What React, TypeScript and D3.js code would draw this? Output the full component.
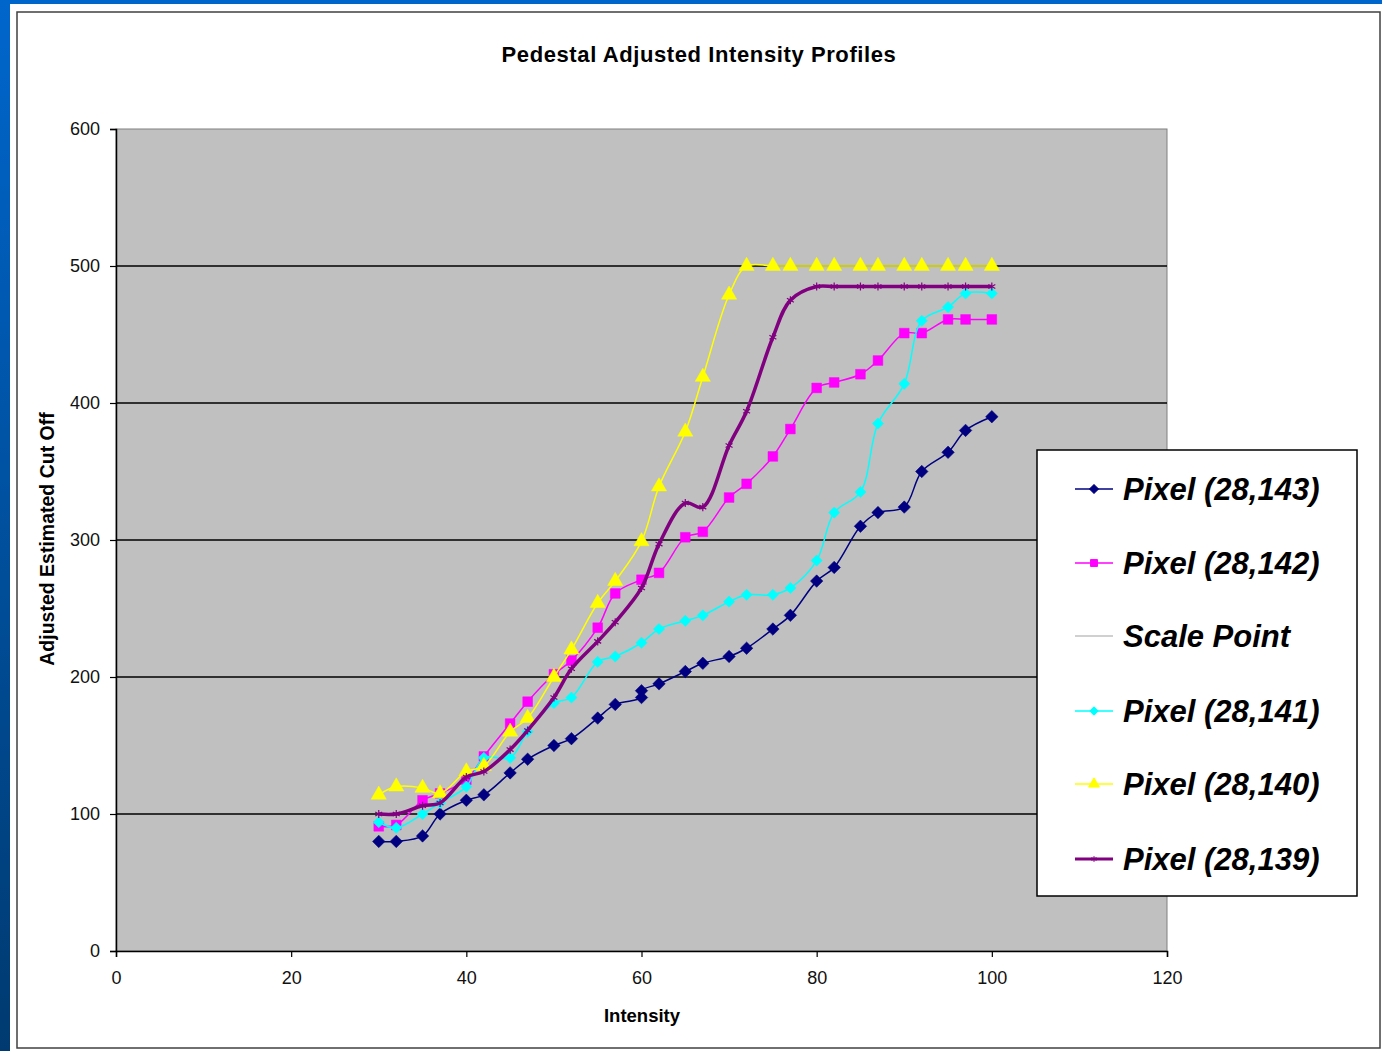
import React, { useEffect, useRef } from "react";
import * as d3 from "d3";

// intensity values (x) shared by most series
const intensity = [30, 32, 35, 37, 40, 42, 45, 47, 50, 52, 55, 57, 60, 62, 65, 67, 70, 72, 75, 77, 80, 82, 85, 87, 90, 92, 95, 97, 100];
// pixel (28,143) has two readings at 60
const intensity143 = [30, 32, 35, 37, 40, 42, 45, 47, 50, 52, 55, 57, 60, 60, 62, 65, 67, 70, 72, 75, 77, 80, 82, 85, 87, 90, 92, 95, 97, 100];

const pixel143 = [80, 80, 84, 100, 110, 114, 130, 140, 150, 155, 170, 180, 185, 190, 195, 204, 210, 215, 221, 235, 245, 270, 280, 310, 320, 324, 350, 364, 380, 390];
const pixel142 = [91, 92, 110, 115, 125, 142, 166, 182, 202, 212, 236, 261, 271, 276, 302, 306, 331, 341, 361, 381, 411, 415, 421, 431, 451, 451, 461, 461, 461];
const pixel141 = [94, 90, 100, 108, 120, 141, 141, 160, 181, 185, 211, 215, 225, 235, 241, 245, 255, 260, 260, 265, 285, 320, 335, 385, 414, 460, 470, 480, 480];
const pixel140 = [114, 120, 119, 115, 131, 135, 160, 170, 200, 220, 254, 270, 299, 339, 379, 419, 479, 500, 500, 500, 500, 500, 500, 500, 500, 500, 500, 500, 500];
const pixel139 = [100, 100, 106, 108, 127, 131, 147, 161, 185, 206, 226, 240, 265, 297, 327, 324, 369, 394, 448, 475, 485, 485, 485, 485, 485, 485, 485, 485, 485];
const scalePointX = [72, 74];
const scalePointY = [500, 500];

const xTicks = [0, 20, 40, 60, 80, 100, 120];
const yTicks = [0, 100, 200, 300, 400, 500, 600];

const series = [
  { name: "Pixel (28,143)", xs: intensity143, ys: pixel143, color: "#000080", width: 1.5, marker: "diamond", size: 78 },
  { name: "Pixel (28,142)", xs: intensity, ys: pixel142, color: "#ff00ff", width: 1.5, marker: "square", size: 95 },
  { name: "Scale Point", xs: scalePointX, ys: scalePointY, color: "#c0c0c0", width: 1.5, marker: "none", size: 0 },
  { name: "Pixel (28,141)", xs: intensity, ys: pixel141, color: "#00ffff", width: 1.5, marker: "diamond", size: 62 },
  { name: "Pixel (28,140)", xs: intensity, ys: pixel140, color: "#ffff00", width: 1.5, marker: "triangle", size: 100 },
  { name: "Pixel (28,139)", xs: intensity, ys: pixel139, color: "#800080", width: 3.5, marker: "star", size: 45 },
];

const FONT = "'Liberation Sans', Arial, sans-serif";

const App = () => {
  const svgRef = useRef<SVGSVGElement>(null);

  useEffect(() => {
    const svg = d3.select(svgRef.current);
    svg.selectAll("*").remove();

    // slide background + white chart area
    const defs = svg.append("defs");
    const grad = defs.append("linearGradient").attr("id", "slideBlue").attr("x1", 0).attr("y1", 0).attr("x2", 0).attr("y2", 1);
    grad.append("stop").attr("offset", "0%").attr("stop-color", "#0066cc");
    grad.append("stop").attr("offset", "100%").attr("stop-color", "#003a70");
    svg.append("rect").attr("width", 1382).attr("height", 1051).attr("fill", "url(#slideBlue)");
    svg.append("rect").attr("x", 10).attr("y", 4).attr("width", 1372).attr("height", 1047).attr("fill", "#ffffff");
    svg.append("rect").attr("x", 17).attr("y", 12).attr("width", 1363).attr("height", 1036)
      .attr("fill", "none").attr("stroke", "#404040").attr("stroke-width", 1.5);

    const left = 116, right = 1167, top = 129, bottom = 951;
    const x = d3.scaleLinear().domain([0, 120]).range([left, right]);
    const y = d3.scaleLinear().domain([0, 600]).range([bottom, top]);

    // plot area
    svg.append("rect").attr("x", left).attr("y", top).attr("width", right - left).attr("height", bottom - top)
      .attr("fill", "#c0c0c0").attr("stroke", "#808080").attr("stroke-width", 1);

    // gridlines
    svg.append("g").selectAll("line").data(yTicks.filter((t) => t > 0 && t < 600)).join("line")
      .attr("x1", left).attr("x2", right).attr("y1", (d) => y(d)).attr("y2", (d) => y(d))
      .attr("stroke", "#000").attr("stroke-width", 1.5);

    // axes
    const yAxis = svg.append("g").attr("transform", `translate(${left},0)`)
      .call(d3.axisLeft(y).tickValues(yTicks).tickSize(6).tickPadding(10));
    const xAxis = svg.append("g").attr("transform", `translate(0,${bottom})`)
      .call(d3.axisBottom(x).tickValues(xTicks).tickSize(6).tickPadding(14));
    [xAxis, yAxis].forEach((ax) => {
      ax.select(".domain").attr("stroke", "#000").attr("stroke-width", 1.5);
      ax.selectAll(".tick line").attr("stroke", "#000").attr("stroke-width", 1.2);
      ax.selectAll("text").attr("font-family", FONT).attr("font-size", 18).attr("fill", "#111");
    });

    // titles
    svg.append("text").attr("x", 699).attr("y", 62).attr("text-anchor", "middle")
      .attr("font-family", FONT).attr("font-weight", "bold").attr("font-size", 22).attr("letter-spacing", 0.6)
      .text("Pedestal Adjusted Intensity Profiles");
    svg.append("text").attr("x", 642).attr("y", 1022).attr("text-anchor", "middle")
      .attr("font-family", FONT).attr("font-weight", "bold").attr("font-size", 18.5).text("Intensity");
    svg.append("text").attr("transform", "translate(54,539) rotate(-90)").attr("text-anchor", "middle")
      .attr("font-family", FONT).attr("font-weight", "bold").attr("font-size", 19.5).text("Adjusted Estimated Cut Off");

    const symbolFor = (m: string) =>
      m === "diamond" || m === "square" ? d3.symbolSquare : m === "triangle" ? d3.symbolTriangle : d3.symbolAsterisk;
    const rot = (m: string) => (m === "diamond" ? " rotate(45)" : "");

    const line = d3.line<[number, number]>().x((d) => x(d[0])).y((d) => y(d[1])).curve(d3.curveCatmullRom.alpha(0.5));

    series.forEach((s) => {
      const pts: [number, number][] = s.xs.map((v, i) => [v, s.ys[i]]);
      const stroke = s.name === "Scale Point" ? "#333" : s.color;
      svg.append("path").datum(pts).attr("d", line).attr("fill", "none")
        .attr("stroke", stroke).attr("stroke-width", s.width);
      if (s.marker === "none") return;
      svg.append("g").selectAll("path").data(pts).join("path")
        .attr("transform", (d) => `translate(${x(d[0])},${y(d[1])})${rot(s.marker)}`)
        .attr("d", d3.symbol().type(symbolFor(s.marker)).size(s.size)())
        .attr("fill", s.marker === "star" ? "none" : s.color)
        .attr("stroke", s.color).attr("stroke-width", s.marker === "star" ? 1.2 : 0.5);
    });

    // legend
    const lg = svg.append("g");
    lg.append("rect").attr("x", 1037).attr("y", 450).attr("width", 320).attr("height", 446)
      .attr("fill", "#fff").attr("stroke", "#000").attr("stroke-width", 1.5);
    const rowY = [489, 563, 636, 711, 784, 859];
    series.forEach((s, i) => {
      const cy = rowY[i];
      lg.append("line").attr("x1", 1075).attr("x2", 1113).attr("y1", cy).attr("y2", cy)
        .attr("stroke", s.color).attr("stroke-width", s.width === 3.5 ? 3 : 1.5);
      if (s.marker !== "none") {
        lg.append("path").attr("transform", `translate(1094,${cy})${rot(s.marker)}`)
          .attr("d", d3.symbol().type(symbolFor(s.marker)).size(s.size * 0.5)())
          .attr("fill", s.marker === "star" ? "none" : s.color).attr("stroke", s.color).attr("stroke-width", 1);
      }
      lg.append("text").attr("x", 1123).attr("y", cy + 11)
        .attr("font-family", FONT).attr("font-weight", "bold").attr("font-style", "italic").attr("font-size", 31)
        .attr("fill", "#000").text(s.name);
    });
  }, []);

  return (
    <div style={{ position: "absolute", left: 0, top: 0 }}>
      <svg ref={svgRef} width={1382} height={1051} style={{ display: "block" }}></svg>
    </div>
  );
};

export default App;
